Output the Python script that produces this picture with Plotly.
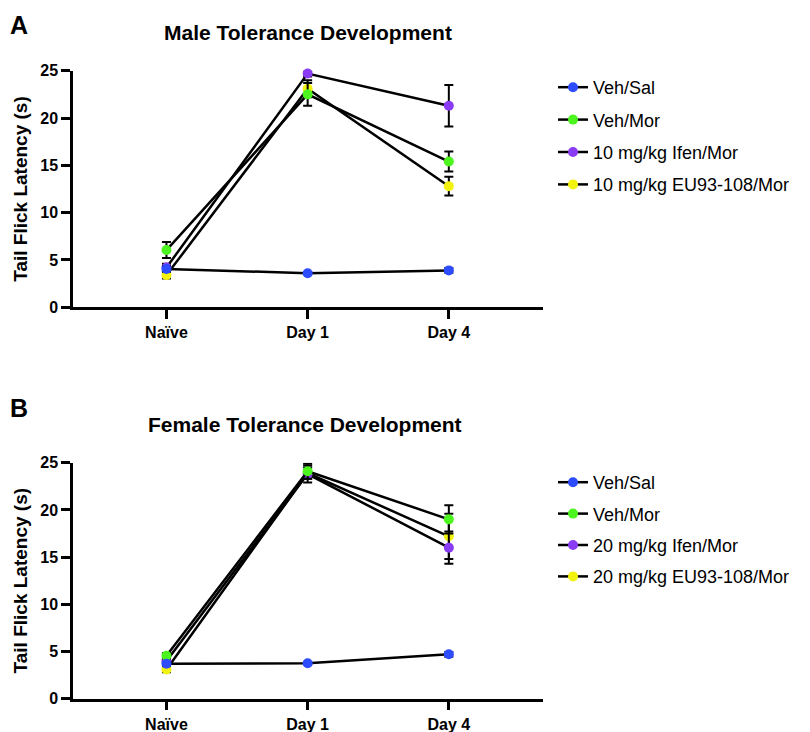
import plotly.graph_objects as go

days = ["Naïve", "Day 1", "Day 4"]
y_ticks = [0, 5, 10, 15, 20, 25]

male_names = ["Veh/Sal", "Veh/Mor", "10 mg/kg Ifen/Mor", "10 mg/kg EU93-108/Mor"]
male_veh_sal = [4.05, 3.6, 3.9]
male_veh_sal_err = [0.3, 0.1, 0.25]
male_veh_mor = [6.05, 22.5, 15.4]
male_veh_mor_err = [0.85, 1.2, 1.05]
male_ifen = [4.2, 24.7, 21.3]
male_ifen_err = [0.4, 0.3, 2.2]
male_eu = [3.4, 23.1, 12.8]
male_eu_err = [0.35, 0.9, 1.0]

female_names = ["Veh/Sal", "Veh/Mor", "20 mg/kg Ifen/Mor", "20 mg/kg EU93-108/Mor"]
female_veh_sal = [3.7, 3.75, 4.7]
female_veh_sal_err = [0.2, 0.1, 0.25]
female_veh_mor = [4.55, 24.1, 19.0]
female_veh_mor_err = [0.3, 0.8, 1.5]
female_ifen = [4.0, 23.8, 16.0]
female_ifen_err = [0.3, 0.9, 1.7]
female_eu = [3.1, 23.9, 17.2]
female_eu_err = [0.3, 0.6, 2.4]

colors = ["#2d4cff", "#4cf51e", "#8a3cf5", "#f2f20f"]

FONT = "Liberation Sans"

fig = go.Figure()

def add_group(names, series, errs, xa, ya, legend):
    # drawn in reverse so that Veh/Sal ends on top
    for i in reversed(range(4)):
        fig.add_trace(go.Scatter(
            x=days, y=series[i], name=names[i],
            mode="lines+markers",
            line=dict(color="black", width=2.5),
            marker=dict(color=colors[i], size=10, line=dict(width=0)),
            error_y=dict(type="data", array=errs[i], color="black",
                         thickness=2, width=4.5),
            cliponaxis=False,
            xaxis=xa, yaxis=ya, legend=legend, legendgroup=legend + str(i),
            legendrank=i + 1,
        ))

add_group(male_names,
          [male_veh_sal, male_veh_mor, male_ifen, male_eu],
          [male_veh_sal_err, male_veh_mor_err, male_ifen_err, male_eu_err],
          "x", "y", "legend")
add_group(female_names,
          [female_veh_sal, female_veh_mor, female_ifen, female_eu],
          [female_veh_sal_err, female_veh_mor_err, female_ifen_err, female_eu_err],
          "x2", "y2", "legend2")

# the page body adds an 8px offset, so the figure is 8px smaller
OFF = 8
W, H = 810 - OFF, 732 - OFF

def px(x):
    return (x - OFF) / W

def py(y):
    return 1 - (y - OFF) / H

xdom = [px(73), px(543)]

axis_common = dict(showline=True, linecolor="black", linewidth=2.5,
                   ticks="outside", ticklen=9, tickwidth=2.5, tickcolor="black",
                   showgrid=False, zeroline=False, automargin=False,
                   tickfont=dict(family=FONT, size=16, color="black", weight="bold"))

def xaxis(anchor):
    return dict(axis_common, domain=xdom, anchor=anchor,
                range=[-0.662, 2.667], type="category",
                categoryorder="array", categoryarray=days)

def yaxis(anchor, top_px, bot_px):
    return dict(axis_common, domain=[py(bot_px), py(top_px)], anchor=anchor,
                range=[0, 25], tickvals=y_ticks, ticktext=[str(v) for v in y_ticks],
                title=dict(text="Tail Flick Latency (s)", standoff=8,
                           font=dict(family=FONT, size=19, color="black", weight="bold")))

legend_common = dict(font=dict(family=FONT, size=18, color="black"),
                     traceorder="grouped",
                     bgcolor="rgba(0,0,0,0)", xanchor="left", yanchor="top",
                     itemclick=False)

fig.update_layout(
    width=W, height=H,
    margin=dict(l=0, r=0, t=0, b=0, autoexpand=False),
    plot_bgcolor="white", paper_bgcolor="white",
    xaxis=xaxis("y"),
    yaxis=yaxis("x", 70.7, 307.3),
    xaxis2=xaxis("y2"),
    yaxis2=yaxis("x2", 462.7, 698.7),
    legend=dict(legend_common, x=px(553), y=py(69), tracegroupgap=6),
    legend2=dict(legend_common, x=px(553), y=py(464), tracegroupgap=5),
    annotations=[
        dict(text="A", x=px(8), y=py(9), xref="paper", yref="paper",
             xanchor="left", yanchor="top", showarrow=False,
             font=dict(family=FONT, size=25, color="black", weight="bold")),
        dict(text="Male Tolerance Development", x=px(308), y=py(32),
             xref="paper", yref="paper", xanchor="center", yanchor="middle",
             showarrow=False,
             font=dict(family=FONT, size=21, color="black", weight="bold")),
        dict(text="B", x=px(8), y=py(392), xref="paper", yref="paper",
             xanchor="left", yanchor="top", showarrow=False,
             font=dict(family=FONT, size=25, color="black", weight="bold")),
        dict(text="Female Tolerance Development", x=px(305), y=py(425),
             xref="paper", yref="paper", xanchor="center", yanchor="middle",
             showarrow=False,
             font=dict(family=FONT, size=21, color="black", weight="bold")),
    ],
)

fig.write_html("out.html")
